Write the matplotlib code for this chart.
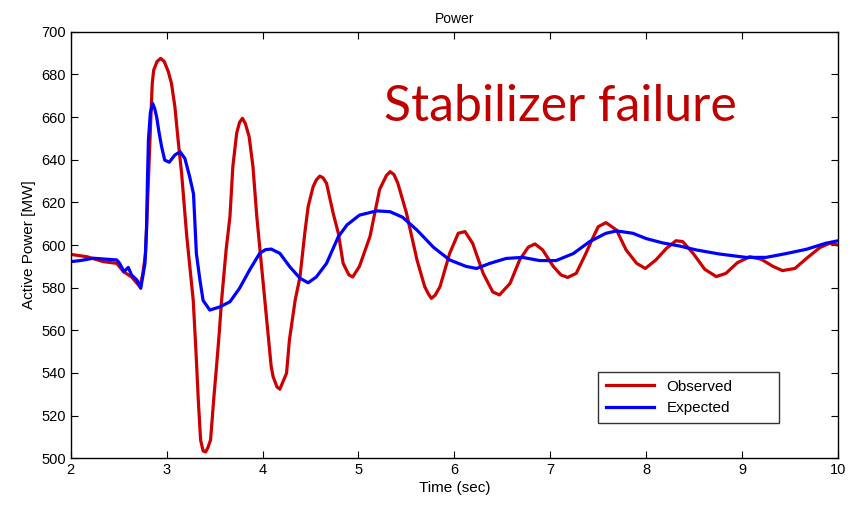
import matplotlib
matplotlib.use("Agg")
import matplotlib.pyplot as plt

plt.rcParams['font.family'] = ['Liberation Sans', 'DejaVu Sans']

obs_t = [2.0, 2.17, 2.34, 2.48, 2.55, 2.635, 2.72, 2.75, 2.78, 2.81,
         2.833, 2.85, 2.865, 2.90, 2.9375, 2.975, 3.017, 3.05, 3.086, 3.12,
         3.156, 3.21, 3.277, 3.305, 3.33, 3.354, 3.38, 3.406, 3.43, 3.458,
         3.49, 3.52, 3.548, 3.573, 3.62, 3.66, 3.69, 3.73, 3.76, 3.79,
         3.82, 3.86, 3.90, 3.94, 3.99, 4.04, 4.09, 4.11, 4.15, 4.18,
         4.25, 4.28, 4.34, 4.39, 4.44, 4.475, 4.527, 4.56, 4.597, 4.63,
         4.667, 4.736, 4.79, 4.84, 4.90, 4.94, 5.01, 5.12, 5.22, 5.29,
         5.33, 5.37, 5.41, 5.50, 5.61, 5.69, 5.73, 5.76, 5.80, 5.85,
         5.95, 6.04, 6.11, 6.19, 6.30, 6.40, 6.47, 6.58, 6.68, 6.77,
         6.84, 6.92, 7.03, 7.11, 7.18, 7.27, 7.37, 7.45, 7.50, 7.58,
         7.69, 7.79, 7.90, 7.99, 8.10, 8.21, 8.31, 8.38, 8.49, 8.61,
         8.73, 8.83, 8.95, 9.08, 9.20, 9.32, 9.42, 9.55, 9.67, 9.81,
         9.91, 10.0]
obs_p = [595.6, 594.5, 592.2, 591.4, 587.5, 585.0, 580.5, 586.0, 596.0, 630.5,
         657.0, 675.8, 682.0, 686.0, 687.5, 686.0, 681.3, 675.8, 664.8, 649.0,
         633.6, 604.0, 574.2, 550.8, 527.3, 508.6, 503.5, 503.0, 505.0, 508.6,
         527.3, 543.0, 558.6, 574.2, 597.7, 613.3, 636.7, 652.4, 657.5, 659.4,
         657.0, 650.8, 636.7, 613.3, 589.8, 566.4, 543.0, 538.3, 533.5, 532.4,
         539.9, 555.5, 574.2, 585.0, 605.5, 618.0, 627.3, 630.5, 632.3, 631.5,
         628.9, 614.9, 605.5, 591.4, 586.0, 585.0, 590.0, 604.0, 626.0, 632.5,
         634.4, 633.0, 629.0, 615.0, 593.0, 580.5, 577.0, 575.0, 576.5, 580.5,
         596.0, 605.5, 606.3, 600.8, 586.7, 578.0, 576.6, 582.0, 593.0, 599.0,
         600.5, 597.7, 590.0, 586.0, 584.8, 586.7, 596.0, 604.0, 608.6, 610.5,
         607.0, 597.7, 591.4, 589.0, 593.0, 598.4, 602.0, 601.6, 596.0, 588.6,
         585.2, 586.7, 591.7, 594.5, 593.3, 590.0, 588.0, 589.0, 593.7, 598.8,
         600.8, 600.0]

exp_t = [2.0, 2.10, 2.235, 2.48, 2.51, 2.555, 2.60, 2.635, 2.69, 2.73,
         2.774, 2.79, 2.80, 2.81, 2.83, 2.854, 2.875, 2.896, 2.92, 2.948,
         2.98, 3.027, 3.086, 3.14, 3.19, 3.24, 3.28, 3.31, 3.347, 3.38,
         3.45, 3.555, 3.66, 3.76, 3.865, 3.97, 4.03, 4.09, 4.18, 4.284,
         4.39, 4.475, 4.56, 4.667, 4.79, 4.88, 5.01, 5.19, 5.33, 5.46,
         5.61, 5.78, 5.95, 6.12, 6.23, 6.37, 6.54, 6.71, 6.89, 7.06,
         7.24, 7.41, 7.58, 7.69, 7.86, 8.0, 8.17, 8.35, 8.52, 8.76,
         9.04, 9.25, 9.46, 9.67, 9.87, 10.0]
exp_p = [592.2, 592.7, 593.8, 593.0, 591.4, 587.5, 589.5, 585.9, 583.6, 579.7,
         591.4, 607.0, 630.5, 649.0, 662.0, 666.4, 664.0, 660.0, 653.0, 646.0,
         639.8, 638.8, 642.2, 643.7, 640.6, 632.0, 624.0, 596.0, 583.6, 574.0,
         569.5, 571.0, 573.4, 579.7, 588.3, 596.1, 597.8, 598.1, 596.1, 589.8,
         584.4, 582.3, 585.0, 591.4, 603.9, 609.4, 614.0, 616.0, 615.6, 613.0,
         607.0, 599.0, 593.0, 590.0, 589.0, 591.4, 593.7, 594.2, 592.7, 592.7,
         596.0, 601.6, 605.5, 606.6, 605.5, 603.0, 601.0, 599.5, 597.7, 595.8,
         594.2, 594.2, 596.0, 598.0, 600.8, 602.0]

x_ticks = [2, 3, 4, 5, 6, 7, 8, 9, 10]
y_ticks = [500, 520, 540, 560, 580, 600, 620, 640, 660, 680, 700]

fig = plt.figure(figsize=(8.5, 5.07), dpi=100)
ax = fig.add_axes([0.0832, 0.096, 0.9028, 0.8415])

ax.plot(obs_t, obs_p, color='#CC0000', lw=2.3, label='Observed', solid_joinstyle='round')
ax.plot(exp_t, exp_p, color='#0000FF', lw=2.3, label='Expected', solid_joinstyle='round')

ax.set_xlim(2, 10)
ax.set_ylim(500, 700)
ax.set_xticks(x_ticks)
ax.set_yticks(y_ticks)
ax.tick_params(direction='in', top=True, right=True, labelsize=10.5, length=5, width=0.8)
for s in ax.spines.values():
    s.set_linewidth(1.0)

ax.set_title('Power', fontsize=10, pad=6)
ax.set_xlabel('Time (sec)', fontsize=11, labelpad=3)
ax.set_ylabel('Active Power [MW]', fontsize=11, labelpad=4)

ax.text(0.408, 0.79, 'Stabilizer failure', transform=ax.transAxes, color='#C00000',
        fontsize=36, family=['Lato', 'DejaVu Sans'], ha='left', va='baseline')

leg = ax.legend(loc='lower left', bbox_to_anchor=(0.687, 0.083, 0.236, 0.148), mode='expand',
                frameon=True, fancybox=False, edgecolor='black', fontsize=11,
                handlelength=3.2, borderaxespad=0, borderpad=0.5, labelspacing=0.5)
leg.get_frame().set_linewidth(1.0)

fig.savefig('out.png', dpi=100)
